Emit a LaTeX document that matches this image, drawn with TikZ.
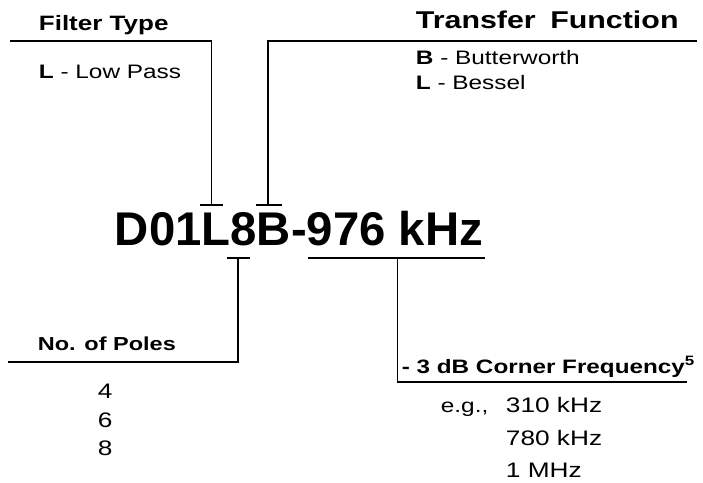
\documentclass[tikz,border=0pt]{standalone}
\usepackage{fontspec}
\setmainfont{Liberation Sans}
\newfontfamily\labelfont[FakeStretch=1.25]{Liberation Sans}
\usetikzlibrary{positioning}

\begin{document}
\begin{tikzpicture}[x=1pt, y=-1pt, line width=1.8pt,
    every node/.style={inner sep=0pt, anchor=base west},
    head/.style={font=\labelfont\fontsize{#1}{#1}\selectfont\bfseries},
    head/.default=19.5,
    entry/.style={font=\labelfont\fontsize{#1}{#1}\selectfont},
    entry/.default=19.5,
    code/.style={font=\fontsize{47.3}{47.3}\selectfont\bfseries}]
    \useasboundingbox (0,0) rectangle (703,482);

    % Part number
    \node[code] (code) at (114,245) {D01L8B-976 kHz};

    % Filter type
    \node[head=20.8] (ftype) at (38,30) {Filter Type};
    \node[entry] (lowpass) at (38,78) {\textbf{L} - Low Pass};
    \coordinate (ftL) at (200,205);
    \coordinate (ftR) at (223,205);
    \coordinate (ftM) at (211.5,205);
    \coordinate (ftE) at (10,41);
    \draw (ftL) -- (ftR);
    \draw (ftM) |- (ftE);

    % Transfer function
    \node[head=24.3] (tfunc) at (415,28) {Transfer\hspace{0.6em}Function};
    \node[entry] (butter) at (415,64) {\textbf{B} - Butterworth};
    \node[entry] (bessel) at (415,89) {\textbf{L} - Bessel};
    \coordinate (tfL) at (256,205);
    \coordinate (tfR) at (282,205);
    \coordinate (tfM) at (268,205);
    \coordinate (tfE) at (697,41);
    \draw (tfL) -- (tfR);
    \draw (tfM) |- (tfE);

    % Number of poles
    \node[head=18.8] (poles) at (37,350) {No. of Poles};
    \node[entry=21] (p4) at (97,398) {4};
    \node[entry=21] (p6) at (97,427) {6};
    \node[entry=21] (p8) at (97,455) {8};
    \coordinate (npL) at (227,258);
    \coordinate (npR) at (250,258);
    \coordinate (npM) at (238,258);
    \coordinate (npE) at (8,362);
    \draw (npL) -- (npR);
    \draw (npM) |- (npE);

    % Corner frequency
    \node[head=19.4] (corner) at (401,373) {- 3 dB Corner Frequency\textsuperscript{5}};
    \node[entry] (eg) at (440,412) {e.g.,};
    \node[entry=21] (f310) at (505,412) {310 kHz};
    \node[entry=21] (f780) at (505,445) {780 kHz};
    \node[entry=21] (f1) at (505,477) {1 MHz};
    \coordinate (cfL) at (308,258);
    \coordinate (cfR) at (485,258);
    \coordinate (cfM) at (397.5,258);
    \coordinate (cfE) at (687,382);
    \draw (cfL) -- (cfR);
    \draw (cfM) |- (cfE);
\end{tikzpicture}
\end{document}
